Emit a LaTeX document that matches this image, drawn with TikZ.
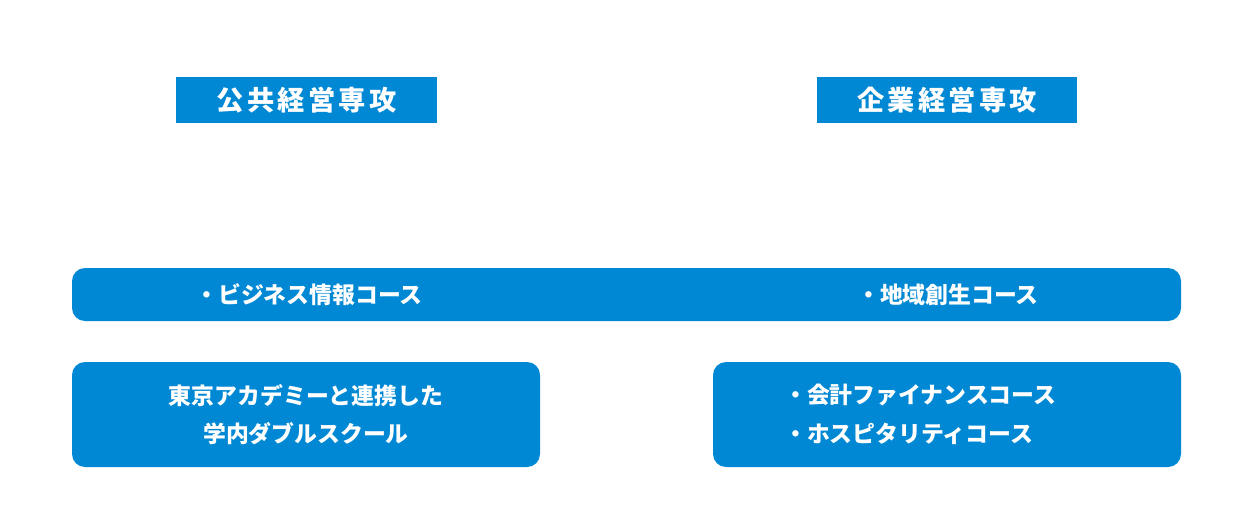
\documentclass[tikz,border=0pt]{standalone}
\usepackage{fontspec}
\newfontfamily\cjk{Noto Sans CJK JP}
\newfontfamily\cjkhead{Noto Sans CJK JP}[LetterSpace=12]
\usetikzlibrary{positioning}
\definecolor{majorblue}{HTML}{0088D4}

\begin{document}
\begin{tikzpicture}[x=0.02cm,y=-0.02cm]
  \tikzset{
    headbox/.style={fill=majorblue},
    coursebox/.style={fill=majorblue,rounded corners=0.26cm},
    headtext/.style={text=white,font=\cjkhead\bfseries\fontsize{15.5pt}{18pt}\selectfont},
    coursetext/.style={text=white,font=\cjk\bfseries\fontsize{13pt}{22pt}\selectfont}
  }
  \useasboundingbox (0,0) rectangle (1253,504);

  % Headers
  \fill[headbox] (176,77) rectangle (437,123);
  \node[headtext] (public) at (306.5,100) {公共経営専攻};
  \fill[headbox] (817,77) rectangle (1077,123);
  \node[headtext] (corporate) at (947,100) {企業経営専攻};

  % Shared course bar
  \fill[coursebox] (72,268) rectangle (1181,321);
  \node[coursetext] (bizinfo) at (309,295) {・ビジネス情報コース};
  \node[coursetext] (region) at (948,295) {・地域創生コース};

  % Lower boxes
  \fill[coursebox] (72,362) rectangle (540,467);
  \node[coursetext,align=center] (double) at (306,414.5) {東京アカデミーと連携した\\学内ダブルスクール};
  \fill[coursebox] (713,362) rectangle (1181,467);
  \node[coursetext,align=left,anchor=west] (finance) at (778,414.5) {・会計ファイナンスコース\\・ホスピタリティコース};
\end{tikzpicture}
\end{document}
